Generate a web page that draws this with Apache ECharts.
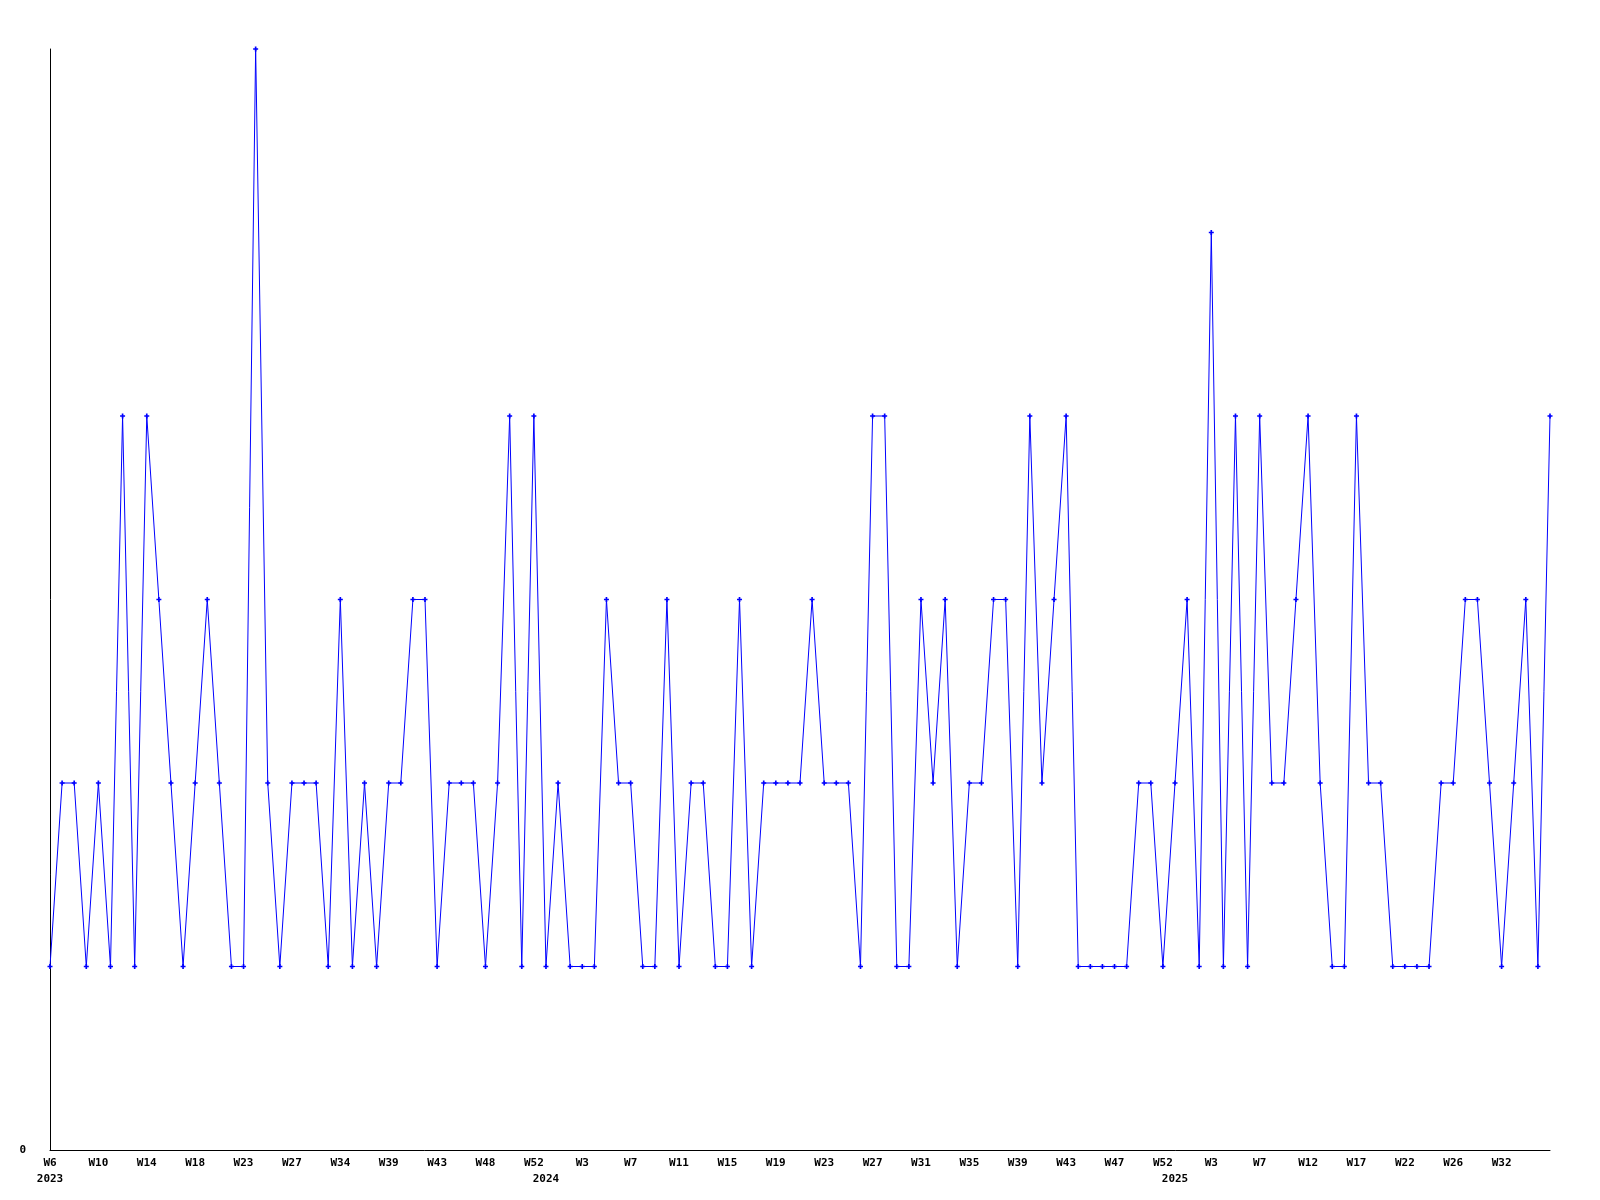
<!DOCTYPE html>
<html>
<head>
<meta charset="utf-8">
<script src="https://cdn.jsdelivr.net/npm/echarts@6/dist/echarts.min.js"></script>
<style>
html,body{margin:0;padding:0;background:#fff;}
#chart{width:1600px;height:1200px;}
</style>
</head>
<body>
<div id="chart"></div>
<script>
// Dates of each data point (category axis); week labels shown every 4th point
const dates = [
  '2023-02-06','2023-02-13','2023-02-20','2023-02-27','2023-03-06','2023-03-13','2023-03-20','2023-03-27',
  '2023-04-03','2023-04-10','2023-04-17','2023-04-24','2023-05-01','2023-05-08','2023-05-15','2023-05-29',
  '2023-06-05','2023-06-12','2023-06-19','2023-06-26','2023-07-03','2023-07-17','2023-07-31','2023-08-07',
  '2023-08-21','2023-08-28','2023-09-04','2023-09-18','2023-09-25','2023-10-02','2023-10-09','2023-10-16',
  '2023-10-23','2023-10-30','2023-11-13','2023-11-20','2023-11-27','2023-12-04','2023-12-11','2023-12-18',
  '2023-12-25','2024-01-02','2024-01-05','2024-01-09','2024-01-15','2024-01-22','2024-01-29','2024-02-05',
  '2024-02-12','2024-02-19','2024-02-26','2024-03-04','2024-03-11','2024-03-18','2024-03-25','2024-04-01',
  '2024-04-08','2024-04-15','2024-04-22','2024-04-29','2024-05-06','2024-05-13','2024-05-20','2024-05-27',
  '2024-06-03','2024-06-10','2024-06-17','2024-06-24','2024-07-01','2024-07-08','2024-07-15','2024-07-22',
  '2024-07-29','2024-08-05','2024-08-12','2024-08-19','2024-08-26','2024-09-02','2024-09-09','2024-09-16',
  '2024-09-23','2024-09-30','2024-10-07','2024-10-14','2024-10-21','2024-10-28','2024-11-04','2024-11-11',
  '2024-11-18','2024-11-25','2024-12-02','2024-12-16','2024-12-23','2025-01-02','2025-01-06','2025-01-08',
  '2025-01-13','2025-01-20','2025-01-27','2025-02-03','2025-02-10','2025-02-17','2025-03-03','2025-03-10',
  '2025-03-17','2025-03-24','2025-03-31','2025-04-07','2025-04-21','2025-04-28','2025-05-05','2025-05-12',
  '2025-05-26','2025-06-02','2025-06-09','2025-06-16','2025-06-23','2025-07-07','2025-07-14','2025-07-28',
  '2025-08-04','2025-08-11','2025-08-18','2025-08-25','2025-09-01'
];

// Series values
const values = [
  1,2,2,1,2,1,4,1,4,3,2,1,2,3,2,1,
  1,6,2,1,2,2,2,1,3,1,2,1,2,2,3,3,
  1,2,2,2,1,2,4,1,4,1,2,1,1,1,3,2,
  2,1,1,3,1,2,2,1,1,3,1,2,2,2,2,3,
  2,2,2,1,4,4,1,1,3,2,3,1,2,2,3,3,
  1,4,2,3,4,1,1,1,1,1,2,2,1,2,3,1,
  5,1,4,1,4,2,2,3,4,2,1,1,4,2,2,1,
  1,1,1,2,2,3,3,2,1,2,3,1,4
];

// Y axis tick labels shown
const yTickLabels = ['0'];

function isoWeek(s) {
  const p = s.split('-').map(Number);
  const t = new Date(Date.UTC(p[0], p[1] - 1, p[2]));
  const day = t.getUTCDay() || 7;
  t.setUTCDate(t.getUTCDate() + 4 - day);
  const ys = new Date(Date.UTC(t.getUTCFullYear(), 0, 1));
  return Math.ceil(((t - ys) / 86400000 + 1) / 7);
}
function yearOf(s) { return s.slice(0, 4); }

const font = { fontFamily: 'DejaVu Sans Mono', fontWeight: 'bold', fontSize: 11, color: '#000' };

const chart = echarts.init(document.getElementById('chart'), null, { renderer: 'canvas' });
chart.setOption({
  animation: false,
  backgroundColor: '#fff',
  grid: { left: 50, right: 50, top: 49, bottom: 50, containLabel: false },
  xAxis: [
    {
      type: 'category',
      data: dates,
      boundaryGap: false,
      position: 'bottom',
      axisLine: { show: true, lineStyle: { color: '#000', width: 1 } },
      axisTick: { show: false },
      splitLine: { show: false },
      axisLabel: Object.assign({
        margin: 8,
        interval: function (i) { return i % 4 === 0 && i < dates.length - 1; },
        formatter: function (v) { return 'W' + isoWeek(v); }
      }, font)
    },
    {
      type: 'category',
      data: dates,
      boundaryGap: false,
      position: 'bottom',
      axisLine: { show: false },
      axisTick: { show: false },
      splitLine: { show: false },
      axisLabel: Object.assign({
        margin: 24,
        interval: function (i) { return i === 0 || yearOf(dates[i]) !== yearOf(dates[i - 1]); },
        formatter: function (v) { return yearOf(v); }
      }, font)
    }
  ],
  yAxis: {
    type: 'value',
    min: 0,
    max: 6,
    interval: 6,
    axisLine: { show: true, lineStyle: { color: '#000', width: 1 } },
    axisTick: { show: false },
    splitLine: { show: false },
    axisLabel: Object.assign({
      margin: 24,
      formatter: function (v) { return yTickLabels.indexOf(String(v)) >= 0 ? String(v) : ''; }
    }, font)
  },
  series: [{
    type: 'line',
    xAxisIndex: 0,
    data: values,
    symbol: 'path://M2,0H4V2H6V4H4V6H2V4H0V2H2Z',
    symbolSize: 5,
    showAllSymbol: true,
    lineStyle: { color: '#0000ff', width: 1 },
    itemStyle: { color: '#0000ff' }
  }]
});
</script>
</body>
</html>
